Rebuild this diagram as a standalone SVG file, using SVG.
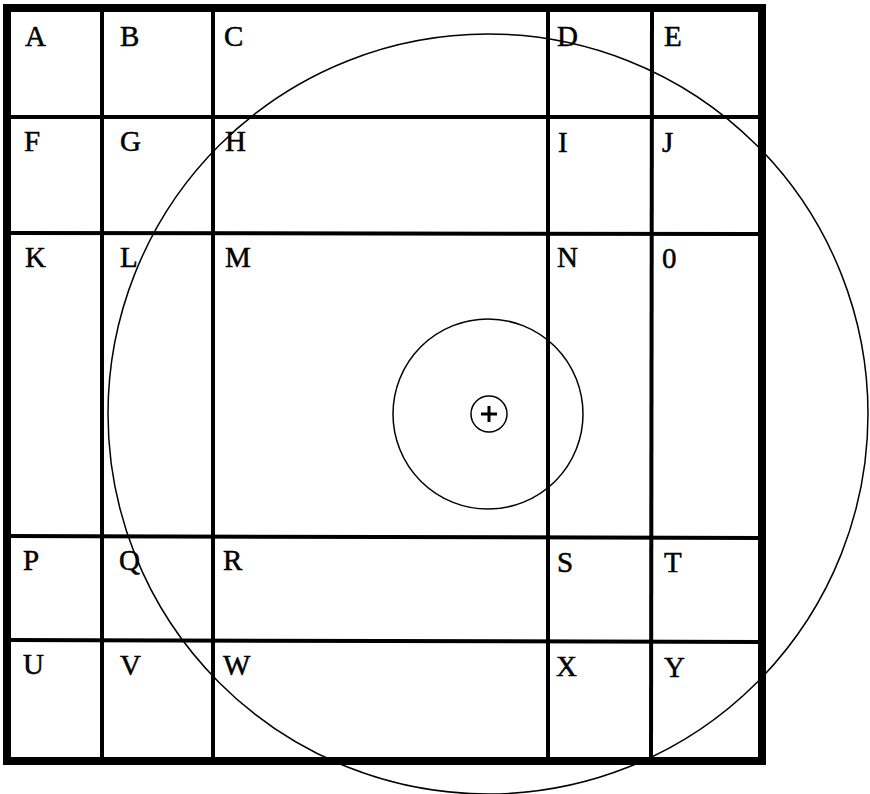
<svg xmlns="http://www.w3.org/2000/svg" width="870" height="794" viewBox="0 0 870 794">
<style>
.grid{stroke:#000;stroke-width:4;fill:none}
.frame{stroke:#000;stroke-width:8;fill:none}
.circ{stroke:#000;stroke-width:1.5;fill:none}
.lbl{font-family:"Liberation Serif","Times New Roman",serif;font-size:29px;fill:#000;stroke:#000;stroke-width:0.5}
</style>
<rect width="870" height="794" fill="#fff"/>
<g id="grid">
<line class="grid" x1="102" y1="8" x2="102" y2="761"/>
<line class="grid" x1="213" y1="8" x2="213" y2="761"/>
<line class="grid" x1="548" y1="8" x2="548" y2="761"/>
<line class="grid" x1="652" y1="8" x2="651" y2="761"/>
<line class="grid" x1="7" y1="117" x2="762" y2="117"/>
<line class="grid" x1="7" y1="233" x2="762" y2="234"/>
<line class="grid" x1="7" y1="536" x2="762" y2="538"/>
<line class="grid" x1="7" y1="640" x2="762" y2="642"/>
<rect class="frame" x="7" y="8" width="755" height="753"/>
</g>
<g id="circles">
<circle class="circ" cx="488" cy="414" r="380"/>
<circle class="circ" cx="488" cy="414" r="95"/>
<circle class="circ" cx="489" cy="414" r="18"/>
<path d="M481 414H497M489 406V422" stroke="#000" stroke-width="3" fill="none"/>
</g>
<g id="labels" class="lbl">
<text x="25" y="46">A</text>
<text x="120" y="46">B</text>
<text x="224" y="46">C</text>
<text x="557" y="46">D</text>
<text x="664" y="46">E</text>
<text x="24" y="151">F</text>
<text x="120" y="151">G</text>
<text x="225" y="151">H</text>
<text x="558" y="152">I</text>
<text x="662" y="152">J</text>
<text x="25" y="267">K</text>
<text x="120" y="267">L</text>
<text x="225" y="267">M</text>
<text x="557" y="267">N</text>
<text x="662" y="268">0</text>
<text x="23" y="570">P</text>
<text x="119" y="570">Q</text>
<text x="223" y="570">R</text>
<text x="557" y="572">S</text>
<text x="664" y="572">T</text>
<text x="23" y="674">U</text>
<text x="120" y="675">V</text>
<text x="223" y="675">W</text>
<text x="556" y="676">X</text>
<text x="664" y="677">Y</text>
</g>
</svg>
